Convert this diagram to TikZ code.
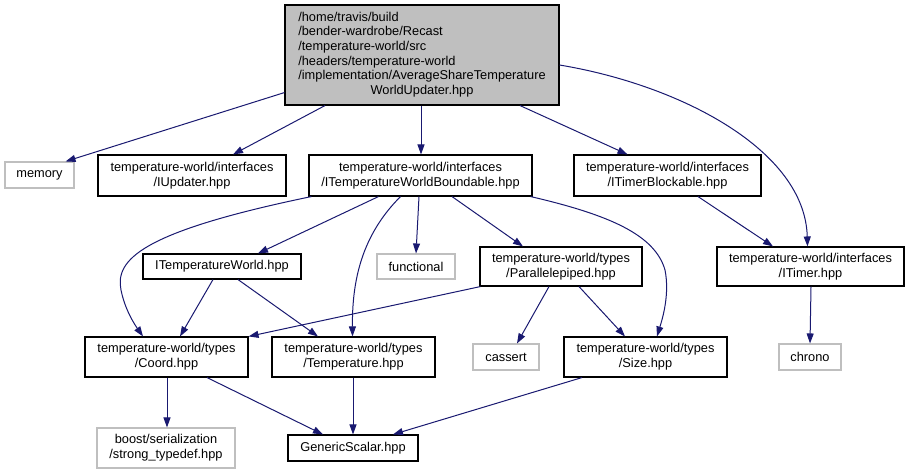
\documentclass[tikz,border=0pt]{standalone}
\usepackage{fontspec}
\setmainfont{Liberation Sans}
\usetikzlibrary{arrows.meta}
\definecolor{edgeblue}{HTML}{191970}
\definecolor{extgray}{HTML}{BFBFBF}
\begin{document}
\begin{tikzpicture}[x=1pt,y=-1pt,
  every node/.style={font=\fontsize{12.8}{14.7}\selectfont, inner sep=0pt, align=center},
  intbox/.style={draw=black, line width=1.1pt, fill=white},
  extbox/.style={draw=extgray, line width=1.1pt, fill=white},
  dep/.style={draw=edgeblue, line width=1pt, -{Triangle[length=10pt,width=7pt]}, color=edgeblue}]
\useasboundingbox (0,0) rectangle (909,475);
% nodes
\node[draw=black, line width=1.1pt, fill=extgray, minimum width=274pt, minimum height=100pt] (top) at (422,55)
  {\begin{tabular}{@{}l@{}}/home/travis/build\\/bender-wardrobe/Recast\\/temperature-world/src\\/headers/temperature-world\\/implementation/AverageShareTemperature\\\multicolumn{1}{@{}c@{}}{WorldUpdater.hpp}\end{tabular}};
\node[extbox, minimum width=69pt, minimum height=26pt] (memory) at (39.5,175) {memory};
\node[intbox, minimum width=188pt, minimum height=41pt] (iupd) at (192,175.5) {temperature-world/interfaces\\/IUpdater.hpp};
\node[intbox, minimum width=223pt, minimum height=41pt] (bound) at (420.5,175.5) {temperature-world/interfaces\\/ITemperatureWorldBoundable.hpp};
\node[intbox, minimum width=187pt, minimum height=41pt] (tblock) at (667.5,175.5) {temperature-world/interfaces\\/ITimerBlockable.hpp};
\node[intbox, minimum width=158pt, minimum height=25pt] (itw) at (222,266.5) {ITemperatureWorld.hpp};
\node[extbox, minimum width=78pt, minimum height=25pt] (func) at (416,266.5) {functional};
\node[intbox, minimum width=162pt, minimum height=39pt] (para) at (561,266.5) {temperature-world/types\\/Parallelepiped.hpp};
\node[intbox, minimum width=187pt, minimum height=39pt] (timer) at (810.5,266.5) {temperature-world/interfaces\\/ITimer.hpp};
\node[intbox, minimum width=163pt, minimum height=40pt] (coord) at (166.5,357) {temperature-world/types\\/Coord.hpp};
\node[intbox, minimum width=163pt, minimum height=40pt] (temp) at (353.5,357) {temperature-world/types\\/Temperature.hpp};
\node[extbox, minimum width=66pt, minimum height=26pt] (cassert) at (506,357) {cassert};
\node[intbox, minimum width=163pt, minimum height=40pt] (size) at (645.5,357) {temperature-world/types\\/Size.hpp};
\node[extbox, minimum width=62pt, minimum height=26pt] (chrono) at (810,357) {chrono};
\node[extbox, minimum width=138pt, minimum height=40pt] (boost) at (166,448) {boost/serialization\\/strong\_typedef.hpp};
\node[intbox, minimum width=130pt, minimum height=26pt] (gs) at (353,448) {GenericScalar.hpp};
% edges
\draw[dep] ([yshift=13pt]top.south west) -- ([xshift=-9pt]memory.north east);
\draw[dep] ([xshift=-97pt]top.south) -- ([xshift=41pt]iupd.north);
\draw[dep] ([xshift=-1pt]top.south) -- ([xshift=0.5pt]bound.north);
\draw[dep] ([xshift=98pt]top.south) -- ([xshift=-40pt]tblock.north);
\draw[dep] ([yshift=-10pt]top.east) .. controls (680,85) and (805,150) .. ([xshift=-3pt]timer.north);
\draw[dep] ([xshift=3pt]bound.south west) .. controls (140,232) and (115,260) .. (121,290) .. controls (125,310) and (135,325) .. ([xshift=-23.5pt]coord.north);
\draw[dep] ([xshift=-42pt]bound.south) -- ([xshift=36pt]itw.north);
\draw[dep] ([xshift=-20pt]bound.south) .. controls (362,235) and (352,280) .. ([xshift=-1pt]temp.north);
\draw[dep] ([xshift=-1.5pt]bound.south) -- (func.north);
\draw[dep] ([xshift=31.5pt]bound.south) -- ([xshift=-38pt]para.north);
\draw[dep] ([xshift=-2pt]bound.south east) .. controls (610,215) and (655,235) .. (665,270) .. controls (670,295) and (662,320) .. ([xshift=11.5pt]size.north);
\draw[dep] ([xshift=30.5pt]tblock.south) -- ([xshift=-37.5pt]timer.north);
\draw[dep] ([xshift=-9pt]itw.south) -- ([xshift=13.5pt]coord.north);
\draw[dep] ([xshift=16pt]itw.south) -- ([xshift=-35.5pt]temp.north);
\draw[dep] ([xshift=1pt]para.south west) -- (coord.north east);
\draw[dep] ([xshift=-12pt]para.south) -- ([xshift=11pt]cassert.north);
\draw[dep] ([xshift=18pt]para.south) -- ([xshift=-20.5pt]size.north);
\draw[dep] ([xshift=0.5pt]timer.south) -- (chrono.north);
\draw[dep] ([xshift=0.5pt]coord.south) -- ([xshift=1pt]boost.north);
\draw[dep] ([xshift=40.5pt]coord.south) -- ([xshift=-30pt]gs.north);
\draw[dep] ([xshift=-0.5pt]temp.south) -- (gs.north);
\draw[dep] ([xshift=-63.5pt]size.south) -- ([xshift=40pt]gs.north);
\end{tikzpicture}
\end{document}
